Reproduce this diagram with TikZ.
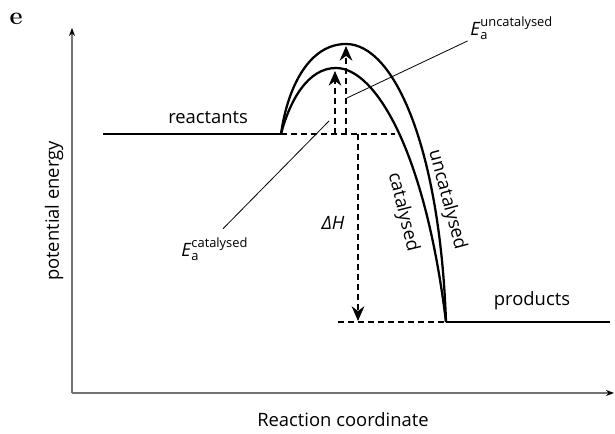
\documentclass[tikz,border=0pt]{standalone}
\usepackage{fontspec}
\usepackage{amsmath}
\setsansfont{Open Sans}
\usetikzlibrary{arrows.meta, positioning}

\begin{document}
\begin{tikzpicture}[x=0.75pt, y=-0.75pt,
  axis/.style={draw=black!55, line width=1pt, -{Stealth[length=6pt, width=4.5pt, black]}},
  level/.style={line width=1.7pt},
  curve/.style={line width=1.7pt},
  guide/.style={line width=1.5pt, dash pattern=on 4.5pt off 3pt},
  guidearrow/.style={guide, -{Stealth[length=11pt, width=9.5pt]}},
  leader/.style={line width=0.6pt},
  lbl/.style={font=\sffamily\fontsize{13.8}{16}\selectfont, inner sep=0pt}]
  \useasboundingbox[fill=white] (0,0) rectangle (615,434);

  % panel letter
  \node[font=\bfseries\fontsize{19}{21}\selectfont] (tag) at (16,19) {e};

  % axes
  \coordinate (O) at (72,393);
  \coordinate (ytop) at (72,28);
  \coordinate (xend) at (614,393);
  \draw[axis] (O) -- (ytop);
  \draw[axis] (O) -- (xend);
  \node[lbl, rotate=90] (ylab) at (54,211) {potential energy};
  \node[lbl] (xlab) at (343,420) {Reaction coordinate};

  % reactant and product levels
  \coordinate (r0) at (103,134);
  \coordinate (ts) at (281,134);
  \coordinate (pe) at (446,322);
  \coordinate (p1) at (610,322);
  \draw[level] (r0) -- (ts);
  \draw[level] (pe) -- (p1);
  \node[lbl, anchor=west] (reac) at (168,118) {reactants};
  \node[lbl] (prod) at (532,301) {products};

  % the two energy curves
  \coordinate (catpk) at (336,68);
  \coordinate (uncpk) at (346,44);
  \draw[curve] (ts) .. controls (290,100) and (308,68) .. (catpk)
    .. controls (375,68) and (425,150) .. (pe);
  \draw[curve] (ts) .. controls (288,85) and (310,44) .. (uncpk)
    .. controls (395,44) and (440,150) .. (pe);
  \node[lbl, rotate=-76] (catlab) at (403,212) {catalysed};
  \node[lbl, rotate=-75] (unclab) at (447,200) {uncatalysed};

  % dashed guides
  \coordinate (g1) at (395,134);
  \coordinate (g2) at (338,322);
  \draw[guide] (ts) -- (g1);
  \draw[guide] (g2) -- (pe);
  \coordinate (cb) at (335,134);
  \coordinate (ct) at (335,71);
  \coordinate (ub) at (346,134);
  \coordinate (ut) at (346,46);
  \coordinate (hb) at (358,134);
  \coordinate (ht) at (358,321);
  \draw[guidearrow] (cb) -- (ct);
  \draw[guidearrow] (ub) -- (ut);
  \draw[guidearrow] (hb) -- (ht);
  \node[lbl] (dH) at (333,223) {\textit{ΔH}};

  % activation energy labels
  \node[lbl, anchor=west] (Ecat) at (181,249) {\textit{E}$_\text{a}^\text{catalysed}$};
  \node[lbl, anchor=west] (Eunc) at (470,28) {\textit{E}$_\text{a}^\text{uncatalysed}$};
  \coordinate (catpt) at (329,121);
  \coordinate (uncpt) at (347,98);
  \draw[leader, shorten >=9pt] (catpt) -- (Ecat.north);
  \draw[leader, shorten >=2pt] (uncpt) -- (Eunc.south west);
\end{tikzpicture}
\end{document}
